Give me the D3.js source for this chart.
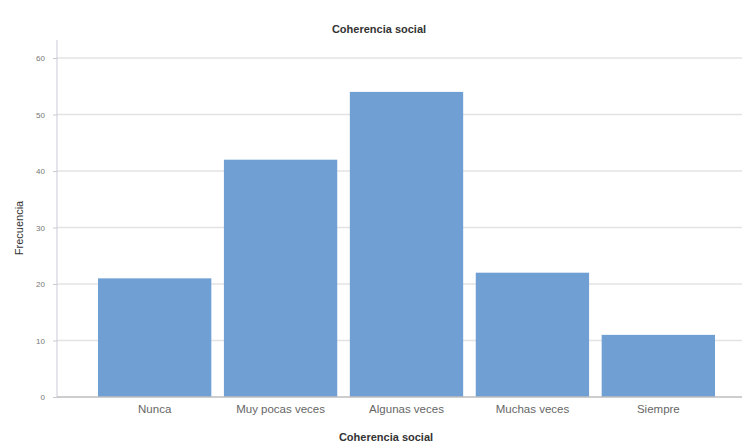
<!DOCTYPE html>
<html>
<head>
<meta charset="utf-8">
<script src="https://cdn.jsdelivr.net/npm/d3@7"></script>
<style>
  body { margin: 0; background: #fff; }
  svg { font-family: "Liberation Sans", Arial, sans-serif; }
</style>
</head>
<body>
<div id="wrapper"></div>
<script>
// Data
const categories = ["Nunca", "Muy pocas veces", "Algunas veces", "Muchas veces", "Siempre"];
const frecuencias = [21, 42, 54, 22, 11];
const yTicks = [0, 10, 20, 30, 40, 50, 60];

const dimension = {
    width: 748,
    height: 446,
    margin: { top: 58, right: 6, bottom: 49, left: 57 },
};
dimension.boundedWidth = dimension.width - dimension.margin.left - dimension.margin.right;
dimension.boundedHeight = dimension.height - dimension.margin.top - dimension.margin.bottom;

const wrapper = d3.select("#wrapper")
    .append("svg")
    .attr("width", dimension.width)
    .attr("height", dimension.height);

const bounds = wrapper.append("g")
    .attr("transform", `translate(${dimension.margin.left},${dimension.margin.top})`);

// Scales
const yScaler = d3.scaleLinear()
    .domain([0, 60])
    .range([dimension.boundedHeight, 0]);

// bars sit a little right of centre in the plot area
const xScaler = d3.scaleBand()
    .domain(categories)
    .range([7, dimension.boundedWidth + 7])
    .paddingInner(0.1)
    .paddingOuter(0.27);

// Gridlines
bounds.append("g")
    .selectAll("line")
    .data(yTicks.filter(d => d > 0))
    .join("line")
    .attr("x1", 0)
    .attr("x2", dimension.boundedWidth)
    .attr("y1", d => yScaler(d))
    .attr("y2", d => yScaler(d))
    .attr("stroke", "#e3e3e3")
    .attr("stroke-width", 1.5);

// Bars
bounds.append("g")
    .selectAll("rect")
    .data(frecuencias)
    .join("rect")
    .attr("x", (d, i) => xScaler(categories[i]))
    .attr("width", xScaler.bandwidth())
    .attr("y", d => yScaler(d))
    .attr("height", d => dimension.boundedHeight - yScaler(d))
    .attr("fill", "#6f9fd3");

// y axis
const yAxis = bounds.append("g")
    .call(d3.axisLeft(yScaler).tickValues(yTicks).tickSize(4).tickPadding(8));
yAxis.select(".domain").remove();
yAxis.append("line")
    .attr("y1", -18)
    .attr("y2", dimension.boundedHeight)
    .attr("stroke", "#c9c9d6");
yAxis.selectAll(".tick line").attr("stroke", "#c9c9d6");
yAxis.selectAll("text").attr("fill", "#777").style("font-size", "8px");

// x axis
const xAxis = bounds.append("g")
    .attr("transform", `translate(0,${dimension.boundedHeight})`)
    .call(d3.axisBottom(xScaler).tickSize(0).tickPadding(8));
xAxis.select(".domain").remove();
xAxis.append("line")
    .attr("x1", 0)
    .attr("x2", dimension.boundedWidth)
    .attr("stroke", "#bdbdbd")
    .attr("stroke-width", 1.5);
xAxis.selectAll("text").attr("fill", "#666").style("font-size", "11.5px");

// Titles
wrapper.append("text")
    .attr("x", 379)
    .attr("y", 33)
    .attr("text-anchor", "middle")
    .style("font-size", "11px")
    .style("font-weight", "bold")
    .attr("fill", "#333")
    .text("Coherencia social");

wrapper.append("text")
    .attr("x", 386)
    .attr("y", 441)
    .attr("text-anchor", "middle")
    .style("font-size", "11px")
    .style("font-weight", "bold")
    .attr("fill", "#333")
    .text("Coherencia social");

wrapper.append("text")
    .attr("transform", "translate(23,228) rotate(-90)")
    .attr("text-anchor", "middle")
    .style("font-size", "11px")
    .attr("fill", "#333")
    .text("Frecuencia");
</script>
</body>
</html>
